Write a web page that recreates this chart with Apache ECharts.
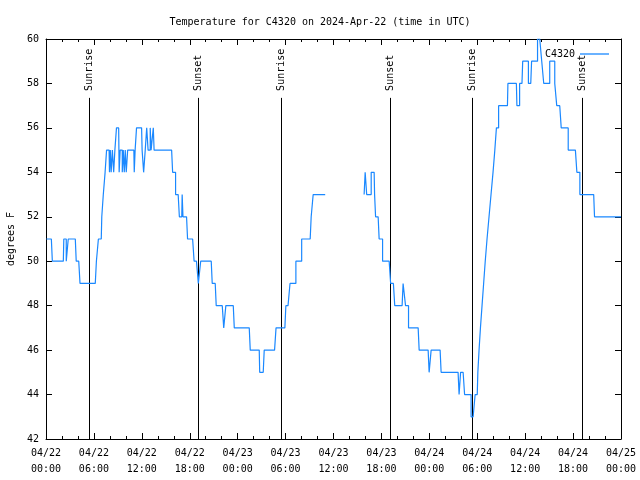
<!DOCTYPE html>
<html>
<head>
<meta charset="utf-8">
<script src="https://cdn.jsdelivr.net/npm/echarts@6/dist/echarts.min.js"></script>
<style>html,body{margin:0;padding:0;background:#fff}#c{width:640px;height:480px}</style>
</head>
<body>
<div id="c"></div>
<script>
// Hours since 2024-04-22 00:00 UTC, and temperature in degrees F ('-' = no data)
const hours = [0.05,0.67,0.92,2.17,2.29,2.45,2.62,2.72,2.85,3.67,3.9,4.1,4.42,6.17,6.45,6.67,6.92,7.05,7.3,7.5,
  7.67,7.9,8.0,8.1,8.22,8.4,8.55,8.7,8.95,9.1,9.22,9.35,9.5,9.6,9.75,9.85,10.0,10.1,10.35,11.0,
  11.1,11.22,11.45,11.97,12.1,12.35,12.5,12.72,12.85,13.0,13.1,13.22,13.4,13.47,13.6,15.73,15.98,16.1,16.35,16.55,
  16.85,17.0,17.1,17.2,17.6,17.85,18.36,18.73,18.95,19.2,19.3,19.44,20.69,20.94,21.19,21.44,22.07,22.44,22.6,23.45,
  23.7,25.45,25.7,26.7,26.82,27.2,27.45,28.62,28.99,29.91,30.16,30.45,30.66,31.12,31.46,31.83,32.2,33.08,33.33,33.58,
  34.96,34.97,39.83,
  39.84,40.09,40.22,40.6,40.84,41.09,41.2,41.34,41.59,41.84,41.95,42.34,42.97,43.34,43.5,43.84,44.59,44.84,44.95,45.09,
  45.2,45.59,46.6,46.85,47.85,48.1,48.35,49.35,49.6,51.6,51.85,51.98,52.23,52.6,53.1,53.36,53.61,53.86,54.0,54.15,
  54.3,54.5,54.7,54.9,55.1,55.35,55.6,55.85,56.1,56.3,56.5,56.85,57.78,57.9,58.9,59.03,59.2,59.41,59.6,59.78,
  60.28,60.53,60.7,60.91,61.4,61.7,61.95,62.2,62.45,62.95,63.2,63.58,63.83,64.08,64.33,64.7,65.2,65.58,66.29,66.66,
  67.04,68.58,68.79,72.0];
const tempF = [51,51,50,50,51,51,50,50,51,51,50,50,49,49,50,51,51,52,53,54,
  55,55,54,55,54,55,54,55,56,56,54,55,55,54,55,54,55,54,55,55,
  54,55,56,56,55,54,55,56,55,55,56,55,55,56,55,55,54,54,53,53,
  52,52,53,52,52,51,51,50,50,49,49,50,50,49,49,48,48,47,48,48,
  47,47,46,46,45,45,46,46,47,47,48,48,49,49,50,50,51,51,52,53,
  53,'-','-',
  53,54,53,53,54,54,53,52,52,51,51,50,50,49,49,48,48,49,49,48,
  48,47,47,46,46,45,46,46,45,45,44,45,45,44,44,43,43,44,44,45,
  46,47,48,49,50,51,52,53,54,55,56,57,57,58,58,57,57,58,58,59,
  59,58,58,59,59,60,60,59,58,58,59,59,58,57,57,56,56,55,55,54,
  53,53,52,52];

// Sunrise / sunset times (hours) and their labels
const sunTimes = [5.38, 19.02, 29.41, 43.05, 53.31, 67.08];
const sunLabels = ['Sunrise','Sunset','Sunrise','Sunset','Sunrise','Sunset'];
const sunLineTop = 57.35; // degrees F where the marker lines stop

// X tick labels (every 6 hours)
const xTickLabels = ['04/22\n00:00','04/22\n06:00','04/22\n12:00','04/22\n18:00','04/23\n00:00','04/23\n06:00',
  '04/23\n12:00','04/23\n18:00','04/24\n00:00','04/24\n06:00','04/24\n12:00','04/24\n18:00','04/25\n00:00'];

const FONT = '"DejaVu Sans Mono", "Liberation Mono", monospace';
const seriesData = hours.map((h, i) => [h, tempF[i]]);
const sunData = sunTimes.map((t, i) => [t, i]);

const axisLine = {show: true, onZero: false, lineStyle: {color: '#000', width: 1}};
const chart = echarts.init(document.getElementById('c'), null, {renderer: 'canvas'});
chart.setOption({
  animation: false,
  backgroundColor: '#fff',
  title: {
    text: 'Temperature for C4320 on 2024-Apr-22 (time in UTC)',
    left: 'center', top: 12,
    textStyle: {fontFamily: FONT, fontSize: 10, fontWeight: 'normal', color: '#000'}
  },
  legend: {
    data: ['C4320'], right: 26, top: 44, align: 'right',
    icon: 'rect', itemWidth: 29, itemHeight: 1.3,
    textStyle: {fontFamily: FONT, fontSize: 10, color: '#000'}
  },
  grid: {left: 46, right: 19, top: 39, bottom: 41, containLabel: false, outerBoundsMode: 'none'},
  xAxis: [{
    type: 'value', min: 0, max: 72, interval: 6,
    axisLine: axisLine,
    axisTick: {show: true, inside: true, length: 6, lineStyle: {color: '#000'}},
    minorTick: {show: true, splitNumber: 3, length: 3, lineStyle: {color: '#000'}},
    splitLine: {show: false},
    axisLabel: {
      fontFamily: FONT, fontSize: 10, color: '#000', lineHeight: 16, margin: 6,
      formatter: v => xTickLabels[Math.round(v / 6)]
    }
  }, {
    type: 'value', min: 0, max: 72, interval: 6, position: 'top',
    axisLine: axisLine,
    axisTick: {show: true, inside: true, length: 6, lineStyle: {color: '#000'}},
    minorTick: {show: true, splitNumber: 3, length: 3, lineStyle: {color: '#000'}},
    splitLine: {show: false}, axisLabel: {show: false}
  }],
  yAxis: [{
    type: 'value', min: 42, max: 60, interval: 2,
    name: 'degrees F', nameLocation: 'middle', nameGap: 30, nameRotate: 90,
    nameTextStyle: {fontFamily: FONT, fontSize: 10, color: '#000'},
    axisLine: axisLine,
    axisTick: {show: true, inside: true, length: 6, lineStyle: {color: '#000'}},
    splitLine: {show: false},
    axisLabel: {fontFamily: FONT, fontSize: 10, color: '#000', margin: 7}
  }, {
    type: 'value', min: 42, max: 60, interval: 2, position: 'right',
    axisLine: axisLine,
    axisTick: {show: true, inside: true, length: 6, lineStyle: {color: '#000'}},
    splitLine: {show: false}, axisLabel: {show: false}
  }],
  series: [{
    type: 'custom',
    name: 'sun',
    xAxisIndex: 0, yAxisIndex: 0,
    data: sunData,
    silent: true,
    renderItem: function (params, api) {
      const t = api.value(0);
      const b = api.coord([t, 42]);
      const top = api.coord([t, sunLineTop]);
      const x = Math.round(b[0]) + 0.5;
      return {
        type: 'group',
        children: [{
          type: 'line',
          shape: {x1: x, y1: b[1], x2: x, y2: top[1]},
          style: {stroke: '#000', lineWidth: 1}
        }, {
          type: 'text',
          x: x, y: top[1] - 7,
          rotation: Math.PI / 2,
          style: {
            text: sunLabels[api.value(1)],
            font: '10px ' + FONT,
            fill: '#000', align: 'left', verticalAlign: 'middle'
          }
        }]
      };
    }
  }, {
    type: 'line',
    name: 'C4320',
    xAxisIndex: 0, yAxisIndex: 0,
    data: seriesData,
    step: 'middle',
    showSymbol: false, symbol: 'none',
    connectNulls: false,
    color: '#1a88ff',
    lineStyle: {color: '#1a88ff', width: 1.2},
    clip: true
  }]
});
</script>
</body>
</html>
